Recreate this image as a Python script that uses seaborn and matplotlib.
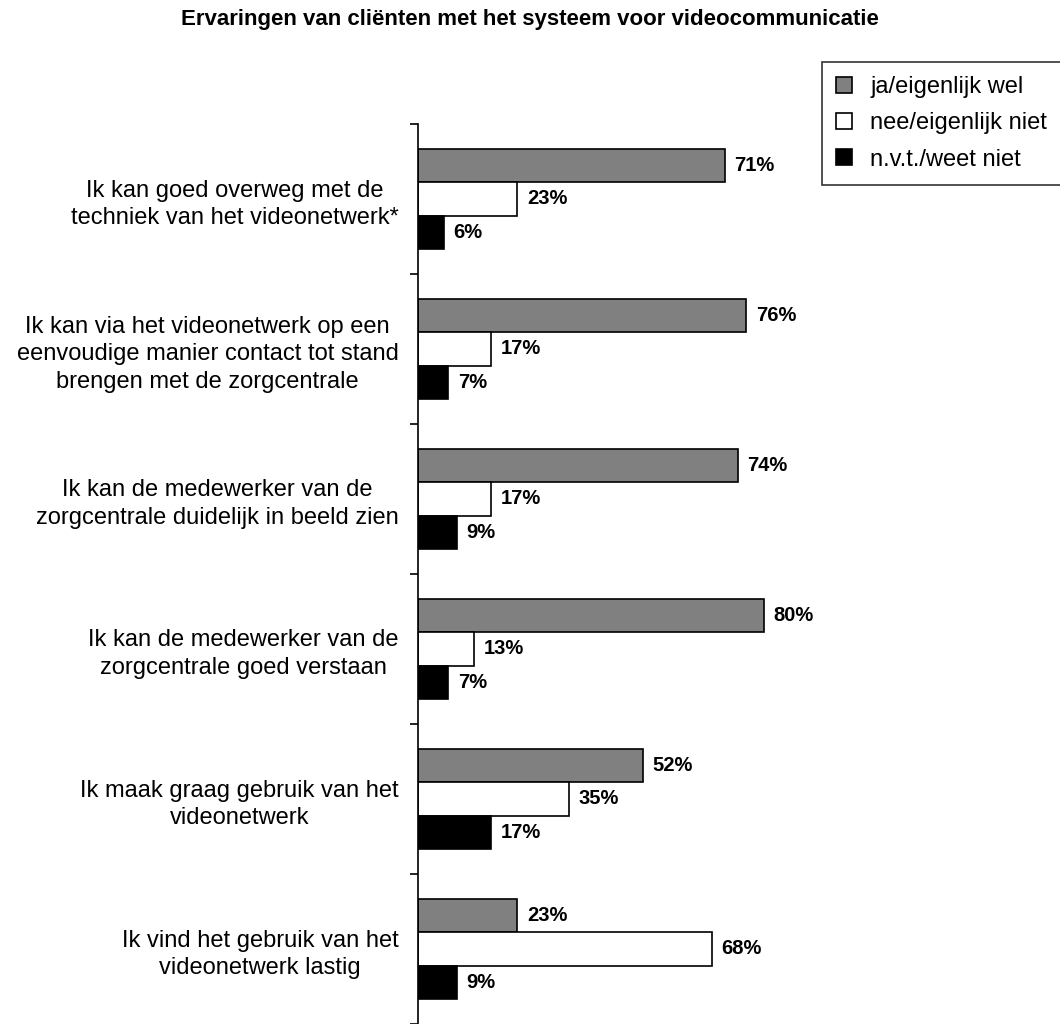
import matplotlib
matplotlib.use("Agg")
import matplotlib.pyplot as plt
import matplotlib.patches as mpatches
import seaborn as sns
import pandas as pd
import numpy as np

statements = [
    "Ik kan goed overweg met de\ntechniek van het videonetwerk*",
    "Ik kan via het videonetwerk op een\neenvoudige manier contact tot stand\nbrengen met de zorgcentrale",
    "Ik kan de medewerker van de\nzorgcentrale duidelijk in beeld zien",
    "Ik kan de medewerker van de\nzorgcentrale goed verstaan",
    "Ik maak graag gebruik van het\nvideonetwerk",
    "Ik vind het gebruik van het\nvideonetwerk lastig",
]
answers = ["ja/eigenlijk wel", "nee/eigenlijk niet", "n.v.t./weet niet"]
ja_values = [71, 76, 74, 80, 52, 23]
nee_values = [23, 17, 17, 13, 35, 68]
nvt_values = [6, 7, 9, 7, 17, 9]
colors = ["#808080", "#ffffff", "#000000"]

df = pd.DataFrame({
    "stelling": statements * 3,
    "antwoord": [answers[0]] * 6 + [answers[1]] * 6 + [answers[2]] * 6,
    "percentage": ja_values + nee_values + nvt_values,
})

sns.set_style("white")
plt.rcParams["font.family"] = ["Liberation Sans", "DejaVu Sans"]
plt.rcParams["text.color"] = "black"
plt.rcParams["axes.labelcolor"] = "black"
plt.rcParams["xtick.color"] = "black"
plt.rcParams["ytick.color"] = "black"

fig = plt.figure(figsize=(10.6, 10.24), dpi=100)
ax = fig.add_axes([418 / 1060, 0.0, 432 / 1060, 900 / 1024])

sns.barplot(
    data=df, y="stelling", x="percentage", hue="antwoord",
    order=statements, hue_order=answers,
    palette=dict(zip(answers, colors)),
    orient="h", width=0.67, edgecolor="black", linewidth=1.2,
    saturation=1, legend=False, ax=ax,
)

for container in ax.containers:
    ax.bar_label(container, fmt="%d%%", padding=7, fontsize=14.5,
                 fontweight="bold", color="black")

ax.set_xlim(0, 100)
ax.set_ylim(len(statements) - 0.5, -0.5)
ax.set_xlabel("")
ax.set_ylabel("")
ax.set_xticks([])
for side in ["top", "right", "bottom"]:
    ax.spines[side].set_visible(False)
ax.spines["left"].set_linewidth(1.2)
ax.spines["left"].set_color("black")

# ticks at category boundaries, labels at category centers
ax.set_yticks(np.arange(-0.5, len(statements), 1.0))
ax.set_yticklabels([])
ax.tick_params(axis="y", which="major", direction="out", length=6,
               width=1.2, color="black", left=True)
ax.set_yticks(np.arange(len(statements)), minor=True)
ax.set_yticklabels(statements, minor=True, fontsize=17,
                   multialignment="center", color="black", linespacing=1.32)
ax.tick_params(axis="y", which="minor", length=0, pad=14)

fig.text(0.5, 1 - 20 / 1024, "Ervaringen van cliënten met het systeem voor videocommunicatie",
         ha="center", va="center", fontsize=16, fontweight="bold", color="black")

handles = [mpatches.Patch(facecolor=c, edgecolor="black", linewidth=1.2, label=a)
           for a, c in zip(answers, colors)]
leg = fig.legend(handles=handles, loc="upper left",
                 bbox_to_anchor=(822 / 1060, 1 - 62 / 1024),
                 frameon=True, fancybox=False, fontsize=17,
                 handlelength=0.65, handleheight=0.65, handletextpad=0.8,
                 labelspacing=0.6, borderpad=0.6, borderaxespad=0)
leg.get_frame().set_edgecolor("black")
leg.get_frame().set_linewidth(1.2)

fig.savefig("out.png", dpi=100, facecolor="white")
